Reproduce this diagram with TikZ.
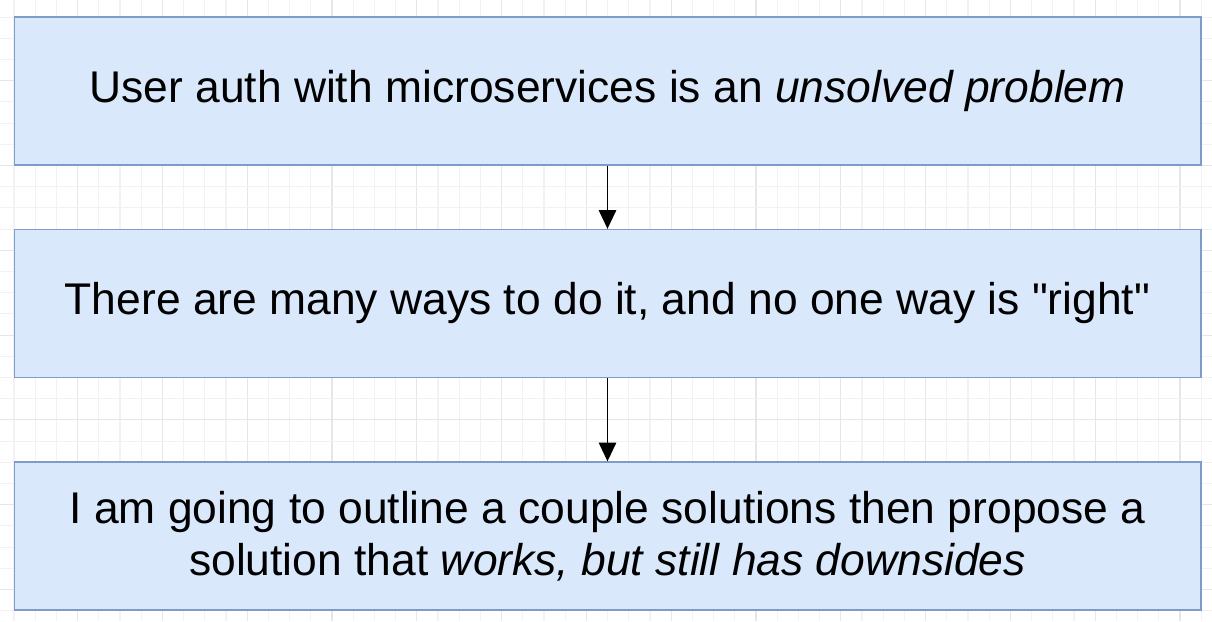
\documentclass[tikz,border=0pt]{standalone}
\usepackage{fontspec}
\setmainfont{Liberation Sans}
\usetikzlibrary{arrows.meta, positioning}
\definecolor{blkfill}{HTML}{DAE8FC}
\definecolor{blkline}{HTML}{7D9CC9}
\definecolor{gridminor}{HTML}{F2F2F2}
\definecolor{gridmajor}{HTML}{E6E6E6}
\tikzset{
  blk/.style  = {rectangle, draw=blkline, fill=blkfill, line width=1pt,
                 align=center, font=\fontsize{33.3}{39}\selectfont,
                 minimum width=890pt, minimum height=111pt, inner sep=0pt},
  flow/.style = {-{Triangle[length=14pt, width=13pt]}, line width=1.2pt, draw=black},
}
\begin{document}
\begin{tikzpicture}[x=0.75pt, y=-0.75pt]
        \useasboundingbox (0,0) rectangle (1212,621);
        \fill[white] (0,0) rectangle (1212,621);
        % background grid
        \foreach \k in {-1,...,56} {
          \pgfmathsetmacro{\gx}{14+21.2*\k}
          \pgfmathtruncatemacro{\gm}{mod(\k+4,4)}
          \ifnum\gm=3 \draw[gridmajor, line width=0.8pt] (\gx,0) -- (\gx,621);
          \else \draw[gridminor, line width=0.8pt] (\gx,0) -- (\gx,621); \fi
        }
        \foreach \k in {-9,...,21} {
          \pgfmathsetmacro{\gy}{186.7+21.2*\k}
          \pgfmathtruncatemacro{\gm}{mod(\k+12,4)}
          \ifnum\gm=3 \draw[gridmajor, line width=0.8pt] (0,\gy) -- (1212,\gy);
          \else \draw[gridminor, line width=0.8pt] (0,\gy) -- (1212,\gy); \fi
        }
        \node[blk] (auth)  at (607.5,91)  {User auth with microservices is an \textit{unsolved problem}};
        \node[blk] (ways)  at (607.5,303.5) {There are many ways to do it, and no one way is \textquotedbl right\textquotedbl};
        \node[blk] (plan)  at (607.5,536) {I am going to outline a couple solutions then propose a\\solution that \textit{works, but still has downsides}};
        \draw[flow] (auth) -- (ways);
        \draw[flow] (ways) -- (plan);
    \end{tikzpicture}
\end{document}
